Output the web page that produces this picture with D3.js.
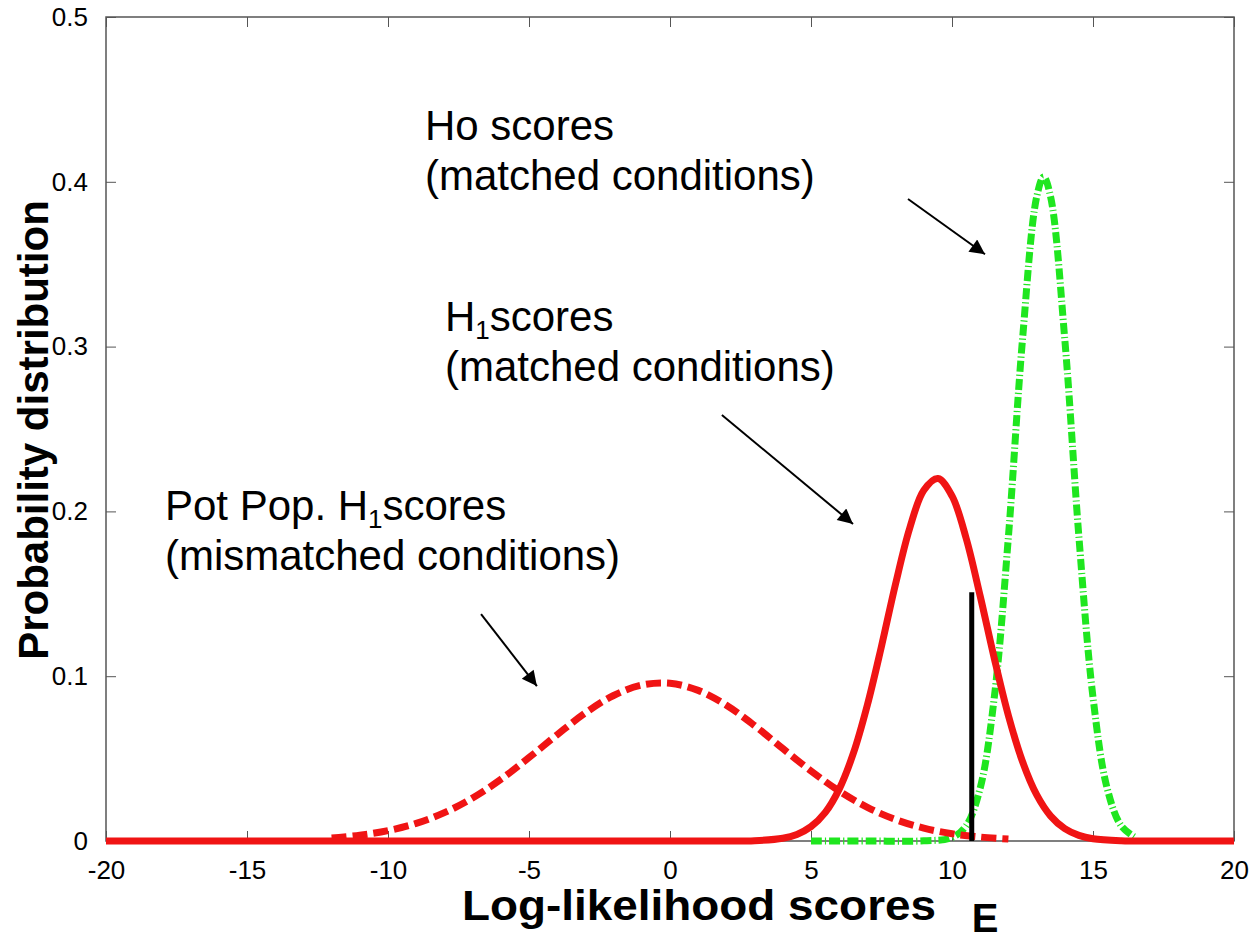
<!DOCTYPE html>
<html>
<head>
<meta charset="utf-8">
<script src="https://cdn.jsdelivr.net/npm/d3@7"></script>
<style>
body { margin: 0; background: #fff; }
text { font-family: "Liberation Sans", Arial, Helvetica, sans-serif; }
</style>
</head>
<body>
<svg id="plot"></svg>
<script>
(function() {
"use strict";

var XTICKS = [-20, -15, -10, -5, 0, 5, 10, 15, 20];
var YTICKS = [0, 0.1, 0.2, 0.3, 0.4, 0.5];
var XLABEL = "Log-likelihood scores";
var YLABEL = "Probability distribution";
var THRESH_LABEL = "E";

// Pot Pop. H1 scores, mismatched (red dashed)
var POT_X = [-12, -11, -10, -9, -8, -7, -6, -5, -4, -3, -2, -1, 0, 1, 2, 3, 4, 5, 6, 7, 8, 9, 10, 11, 12];
var POT_Y = [0.0018, 0.0035, 0.0063, 0.0107, 0.0172, 0.0261, 0.0374, 0.0506, 0.0645, 0.0777, 0.0883, 0.0946,
             0.0957, 0.0914, 0.0824, 0.0700, 0.0561, 0.0425, 0.0303, 0.0204, 0.0130, 0.0078, 0.0044, 0.0024, 0.0012];

// H1 scores, matched (red solid)
var H1_X = [-20, -15, -10, -5, 0, 2, 3, 4, 4.5, 5, 5.5, 6, 6.5, 7, 7.5, 8, 8.5, 9, 9.5, 10, 10.5, 11, 11.5,
            12, 12.5, 13, 13.5, 14, 14.5, 15, 16, 17, 18, 20];
var H1_Y = [0, 0, 0, 0, 0, 0, 0.0002, 0.0017, 0.0040, 0.0087, 0.0172, 0.0315, 0.0531, 0.0826, 0.1182, 0.1561,
            0.1898, 0.2128, 0.2200, 0.2094, 0.1838, 0.1486, 0.1108, 0.0761, 0.0482, 0.0281, 0.0151, 0.0075,
            0.0034, 0.0014, 0.0002, 0, 0, 0];

// Ho scores, matched (green dash-dot)
var HO_X = [5, 7, 9, 10, 10.5, 11, 11.5, 12, 12.5, 13, 13.25, 13.5, 14, 14.5, 15, 15.5, 16, 16.5];
var HO_Y = [0, 0, 0.0001, 0.0021, 0.0092, 0.0321, 0.0872, 0.1846, 0.3043, 0.3906, 0.403, 0.3906, 0.3043,
            0.1846, 0.0872, 0.0321, 0.0092, 0.0021];

// threshold line E
var THRESH_X = 10.7;
var THRESH_TOP = 0.151;

var W = 1253, H = 940;
var margin = {top: 17, right: 19, bottom: 99, left: 106};
var width = W - margin.left - margin.right;
var height = H - margin.top - margin.bottom;

var svg = d3.select("#plot").attr("width", W).attr("height", H);
var defs = svg.append("defs");
defs.append("marker")
    .attr("id", "arrowhead")
    .attr("viewBox", "0 0 10 10")
    .attr("refX", 10).attr("refY", 5)
    .attr("markerUnits", "userSpaceOnUse")
    .attr("markerWidth", 20).attr("markerHeight", 15)
    .attr("orient", "auto")
  .append("path")
    .attr("d", "M0,0L10,5L0,10Z")
    .attr("fill", "#000");

var g = svg.append("g")
    .attr("transform", "translate(" + margin.left + "," + margin.top + ")");

var x = d3.scaleLinear().domain([-20, 20]).range([0, width]);
var y = d3.scaleLinear().domain([0, 0.5]).range([height, 0]);

// frame
var AXC = "#555";
g.append("rect")
    .attr("width", width).attr("height", height)
    .attr("fill", "none").attr("stroke", AXC).attr("stroke-width", 1.5);

var xb = g.append("g").attr("transform", "translate(0," + height + ")")
    .call(d3.axisBottom(x).tickValues(XTICKS).tickSizeInner(-10).tickSizeOuter(0).tickPadding(18)
        .tickFormat(function(d) { return d; }));
var xt = g.append("g")
    .call(d3.axisTop(x).tickValues(XTICKS).tickSizeInner(-10).tickSizeOuter(0).tickFormat(""));
var yl = g.append("g")
    .call(d3.axisLeft(y).tickValues(YTICKS).tickSizeInner(-10).tickSizeOuter(0).tickPadding(18)
        .tickFormat(function(d) { return d; }));
var yr = g.append("g").attr("transform", "translate(" + width + ",0)")
    .call(d3.axisRight(y).tickValues(YTICKS).tickSizeInner(-10).tickSizeOuter(0).tickFormat(""));

[xb, xt, yl, yr].forEach(function(a) {
    a.select(".domain").remove();
    a.selectAll(".tick line").attr("stroke", AXC).attr("stroke-width", 1);
    a.selectAll(".tick text").attr("fill", "#000").style("font-size", "26px")
        .style("font-family", "\"Liberation Sans\", Arial, sans-serif");
});
xb.selectAll(".tick text").attr("dy", "0.75em");

var pts = function(xs, ys) {
    return xs.map(function(v, i) { return [v, ys[i]]; });
};
var line = d3.line()
    .x(function(d) { return x(d[0]); })
    .y(function(d) { return y(d[1]); })
    .curve(d3.curveCatmullRom);

g.append("path")
    .datum(pts(HO_X, HO_Y))
    .attr("fill", "none")
    .attr("stroke", "#1fe61f")
    .attr("stroke-width", 7)
    .attr("stroke-dasharray", "11,3,1.2,3")
    .attr("d", line);

g.append("path")
    .datum(pts(POT_X, POT_Y))
    .attr("fill", "none")
    .attr("stroke", "#f01414")
    .attr("stroke-width", 7)
    .attr("stroke-dasharray", "15,6")
    .attr("d", line);

g.append("path")
    .datum(pts(H1_X, H1_Y))
    .attr("fill", "none")
    .attr("stroke", "#f01414")
    .attr("stroke-width", 7)
    .attr("stroke-linejoin", "round")
    .attr("d", line);

g.append("line")
    .attr("x1", x(THRESH_X)).attr("x2", x(THRESH_X))
    .attr("y1", y(0)).attr("y2", y(THRESH_TOP))
    .attr("stroke", "#000").attr("stroke-width", 5);

// axis labels
svg.append("text")
    .attr("x", 462).attr("y", 920)
    .attr("font-weight", "bold").attr("font-size", 42)
    .attr("textLength", 474).attr("lengthAdjust", "spacingAndGlyphs")
    .text(XLABEL);
svg.append("text")
    .attr("transform", "translate(48,430) rotate(-90)")
    .attr("text-anchor", "middle")
    .attr("font-weight", "bold").attr("font-size", 42)
    .text(YLABEL);
svg.append("text")
    .attr("x", margin.left + x(THRESH_X)).attr("y", 932)
    .attr("font-weight", "bold").attr("font-size", 40)
    .text(THRESH_LABEL);

// annotations (data coords)
var notes = [
    {x: -8.69, y: 0.4254, lines: [["Ho scores"], ["(matched conditions)"]],
     arrow: [[8.44, 0.3896], [11.17, 0.356]]},
    {x: -7.98, y: 0.3095, lines: [["H", "1", "scores"], ["(matched conditions)"]],
     arrow: [[1.84, 0.2585], [6.49, 0.1924]]},
    {x: -17.91, y: 0.1948, lines: [["Pot Pop. H", "1", "scores"], ["(mismatched conditions)"]],
     arrow: [[-6.70, 0.1377], [-4.72, 0.094]]}
];

notes.forEach(function(n) {
    n.lines.forEach(function(parts, i) {
        var t = g.append("text")
            .attr("x", x(n.x)).attr("y", y(n.y) + i * 50)
            .attr("font-size", 42).attr("fill", "#000");
        t.append("tspan").text(parts[0]);
        if (parts.length > 1) {
            t.append("tspan").attr("font-size", 26).attr("dy", 8).text(parts[1]);
            t.append("tspan").attr("dy", -8).text(parts[2]);
        }
    });
    g.append("line")
        .attr("x1", x(n.arrow[0][0])).attr("y1", y(n.arrow[0][1]))
        .attr("x2", x(n.arrow[1][0])).attr("y2", y(n.arrow[1][1]))
        .attr("stroke", "#000").attr("stroke-width", 2)
        .attr("marker-end", "url(#arrowhead)");
});

}());
</script>
</body>
</html>
